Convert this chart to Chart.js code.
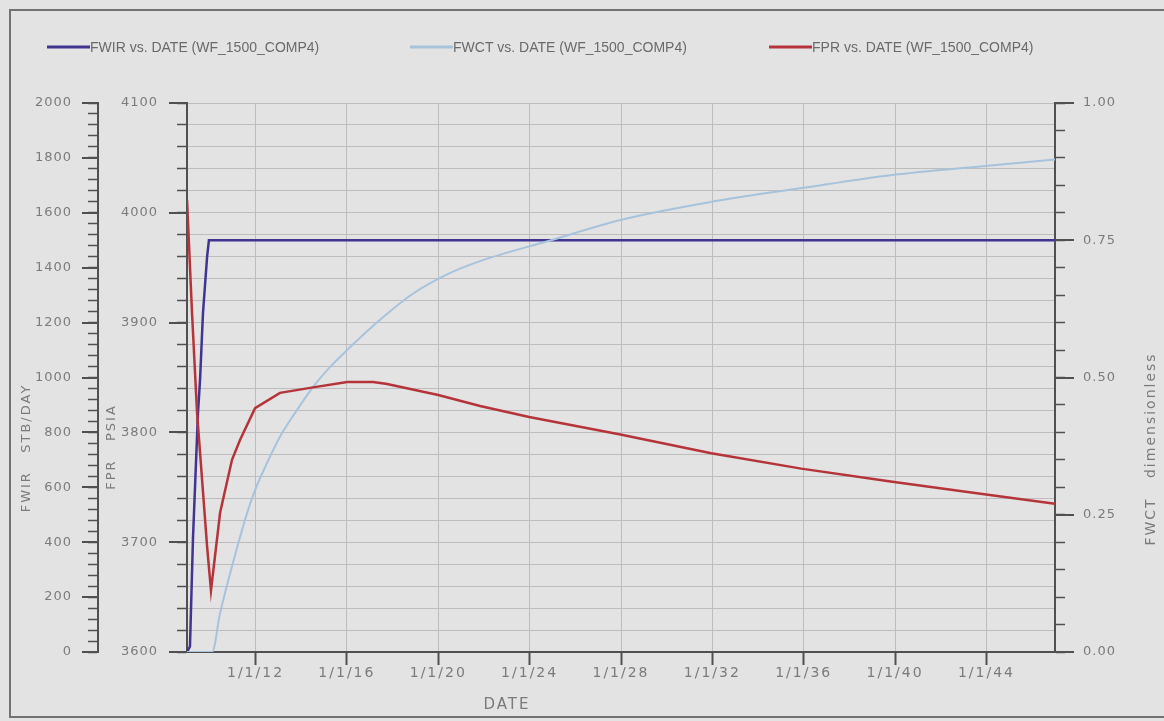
<!DOCTYPE html>
<html>
<head>
<meta charset="utf-8">
<title>FWIR / FWCT / FPR vs. DATE (WF_1500_COMP4)</title>
<script src="https://cdn.jsdelivr.net/npm/chart.js@4.4.1/dist/chart.umd.min.js"></script>
<style>
  html, body { margin: 0; padding: 0; background: #e3e3e3; }
  #wrap { position: relative; width: 1164px; height: 721px; overflow: hidden; }
  #wrap canvas { position: absolute; left: 0; top: 0; }
  #frame {
    position: absolute; left: 9px; top: 9px; width: 1180px; height: 709px;
    border: 2px solid #727272; box-sizing: border-box; pointer-events: none;
  }
</style>
</head>
<body>
<div id="wrap">
  <canvas id="wellChart" width="1164" height="721"></canvas>
  <div id="frame"></div>
</div>
<script>
// Well WF_1500_COMP4 - rate, water cut and pressure against date

// X axis (dates as decimal years)
const dateMin = 2009.0;
const dateMax = 2047.0;
const dateTicks = [2012, 2016, 2020, 2024, 2028, 2032, 2036, 2040, 2044];

// FWIR - water injection rate, STB/DAY
const fwirYears = [2009.00, 2009.13, 2009.26, 2009.48, 2009.57, 2009.70, 2009.88, 2009.96, 2047.00];
const fwirValues = [0, 20, 410, 870, 990, 1235, 1440, 1500, 1500];

// FWCT - water cut, dimensionless
const fwctYears = [2009.00, 2010.10, 2010.45, 2011.01, 2011.63, 2011.98, 2012.50, 2013.07, 2013.82,
  2014.52, 2015.26, 2016.01, 2017.45, 2018.90, 2020.39, 2021.83, 2024.94, 2027.97, 2031.95,
  2035.89, 2039.88, 2043.82, 2047.00];
const fwctValues = [0, 0, 0.071, 0.162, 0.253, 0.295, 0.344, 0.392, 0.441,
  0.483, 0.519, 0.550, 0.605, 0.653, 0.688, 0.712, 0.750, 0.787, 0.820,
  0.845, 0.869, 0.885, 0.897];

// FPR - pressure, PSIA
const fprYears = [2009.00, 2009.22, 2009.44, 2009.66, 2009.88, 2010.05, 2010.45, 2010.97, 2011.32,
  2011.98, 2013.07, 2014.52, 2016.01, 2017.15, 2017.76, 2020.00, 2021.83, 2023.98, 2027.97,
  2031.95, 2035.89, 2039.88, 2043.82, 2047.00];
const fprValues = [4012, 3909, 3818, 3757, 3696, 3656, 3727, 3775, 3793,
  3822, 3836, 3841, 3846, 3846, 3844, 3834, 3824, 3814, 3798,
  3781, 3767, 3755, 3744, 3735];

// Look
const TICK_FONT = "'DejaVu Sans', sans-serif";
const TICK_COLOR = '#7b7b7b';
const AXIS_COLOR = '#505050';
const GRID_COLOR = '#bdbdbd';

// legend layout
const legendY = 47;
const legendStartX = [47, 410, 769];
const legendSampleWidth = 43;

// axis titles (drawn by plugin, positioned like the reference)
const axisTitles = [
  { text: 'FWIR   STB/DAY', x: 27, y: 448, rotate: true, size: 13 },
  { text: 'FPR   PSIA', x: 112, y: 447, rotate: true, size: 13 },
  { text: 'FWCT   dimensionless', x: 1151, y: 449, rotate: true, size: 14 },
  { text: 'DATE', x: 507, y: 705, rotate: false, size: 15 },
];

// longer marks on labelled ticks
const majorTickLength = { fwir: 16, fpr: 18, fwct: 19 };

const charts = {};

window.addEventListener('DOMContentLoaded', function () {
  plotarGrafico();
});

function toPoints(xs, ys) {
  return xs.map((x, i) => ({ x: x, y: ys[i] }));
}

// draws the tick labels of one scale with extra letter spacing
function spaceLabels(scale, spacing) {
  if (scale.$spaced) return;
  scale.$spaced = true;
  const drawLabels = scale.drawLabels.bind(scale);
  scale.drawLabels = function (area) {
    const ctx = scale.ctx;
    ctx.save();
    ctx.letterSpacing = spacing;
    drawLabels(area);
    ctx.restore();
  };
}

const majorTicksPlugin = {
  id: 'majorTicks',
  afterDraw(chart) {
    const ctx = chart.ctx;
    ctx.save();
    ctx.strokeStyle = AXIS_COLOR;
    ctx.lineWidth = 2;
    Object.keys(majorTickLength).forEach((id) => {
      const scale = chart.scales[id];
      const len = majorTickLength[id];
      const edge = scale.position === 'left' ? scale.right : scale.left;
      const dir = scale.position === 'left' ? -1 : 1;
      scale.ticks.forEach((t) => {
        if (t.label === '' || t.label == null) return;
        const y = Math.round(scale.getPixelForValue(t.value));
        ctx.beginPath();
        ctx.moveTo(edge, y);
        ctx.lineTo(edge + dir * len, y);
        ctx.stroke();
      });
    });
    ctx.restore();
  },
};

const titlesPlugin = {
  id: 'axisTitles',
  afterDraw(chart) {
    const ctx = chart.ctx;
    ctx.save();
    ctx.fillStyle = TICK_COLOR;
    ctx.textAlign = 'center';
    ctx.textBaseline = 'middle';
    ctx.letterSpacing = '2px';
    axisTitles.forEach((t) => {
      ctx.font = t.size + 'px ' + TICK_FONT;
      ctx.save();
      ctx.translate(t.x, t.y);
      if (t.rotate) ctx.rotate(-Math.PI / 2);
      ctx.fillText(t.text, 0, 0);
      ctx.restore();
    });
    ctx.restore();
  },
};

const legendPlugin = {
  id: 'lineLegend',
  afterDraw(chart) {
    const ctx = chart.ctx;
    ctx.save();
    ctx.font = "14px 'Liberation Sans', Arial, sans-serif";
    ctx.textBaseline = 'middle';
    ctx.textAlign = 'left';
    chart.data.datasets.forEach((ds, i) => {
      const x = legendStartX[i];
      ctx.strokeStyle = ds.borderColor;
      ctx.lineWidth = 3;
      ctx.beginPath();
      ctx.moveTo(x, legendY);
      ctx.lineTo(x + legendSampleWidth, legendY);
      ctx.stroke();
      ctx.fillStyle = '#6a6a6a';
      ctx.fillText(ds.label, x + legendSampleWidth, legendY + 1);
    });
    ctx.restore();
  },
};

function yTicks(padding, cb) {
  return {
    autoSkip: false,
    padding: padding,
    color: TICK_COLOR,
    font: { family: TICK_FONT, size: 13 },
    callback: cb,
  };
}

function plotarGrafico() {
  const ctx = document.getElementById('wellChart');
  if (!ctx) return;

  const config = {
    type: 'line',
    data: {
      datasets: [
        {
          label: 'FWIR vs. DATE (WF_1500_COMP4)',
          data: toPoints(fwirYears, fwirValues),
          yAxisID: 'fwir',
          borderColor: '#3f3591',
          borderWidth: 2.5,
          tension: 0,
          order: 2,
        },
        {
          label: 'FWCT vs. DATE (WF_1500_COMP4)',
          data: toPoints(fwctYears, fwctValues),
          yAxisID: 'fwct',
          borderColor: '#a7c3dc',
          borderWidth: 2,
          cubicInterpolationMode: 'monotone',
          order: 1,
        },
        {
          label: 'FPR vs. DATE (WF_1500_COMP4)',
          data: toPoints(fprYears, fprValues),
          yAxisID: 'fpr',
          borderColor: '#b5343a',
          borderWidth: 2.5,
          tension: 0,
          order: 0,
        },
      ],
    },
    options: {
      responsive: false,
      animation: false,
      devicePixelRatio: 1,
      elements: { point: { radius: 0 } },
      layout: { padding: { top: 103, left: 10, right: 9, bottom: 9 } },
      plugins: {
        legend: { display: false },
        tooltip: { enabled: false },
      },
      scales: {
        x: {
          type: 'linear',
          min: dateMin,
          max: dateMax,
          afterBuildTicks: (scale) => {
            scale.ticks = dateTicks.map((v) => ({ value: v }));
          },
          afterFit: (scale) => {
            scale.height = 60;
            spaceLabels(scale, '2px');
          },
          ticks: {
            autoSkip: false,
            maxRotation: 0,
            padding: 0,
            color: TICK_COLOR,
            font: { family: TICK_FONT, size: 14 },
            callback: (v) => '1/1/' + String(v).slice(2),
          },
          grid: {
            color: GRID_COLOR,
            lineWidth: 1,
            tickLength: 13,
            tickColor: AXIS_COLOR,
            tickWidth: 2,
          },
          border: { color: AXIS_COLOR, width: 2 },
        },
        fwir: {
          type: 'linear',
          position: 'left',
          weight: 1,
          min: 0,
          max: 2000,
          afterFit: (scale) => {
            scale.width = 88;
            spaceLabels(scale, '1px');
          },
          ticks: Object.assign(yTicks(16, (v) => (v % 200 === 0 ? v : '')), { stepSize: 40 }),
          grid: {
            drawOnChartArea: false,
            tickLength: 10,
            tickColor: AXIS_COLOR,
            tickWidth: 1.5,
          },
          border: { color: AXIS_COLOR, width: 2 },
        },
        fpr: {
          type: 'linear',
          position: 'left',
          weight: 0,
          min: 3600,
          max: 4100,
          afterFit: (scale) => {
            scale.width = 89;
            spaceLabels(scale, '1px');
          },
          ticks: Object.assign(yTicks(19, (v) => (v % 100 === 0 ? v : '')), { stepSize: 20 }),
          grid: {
            color: GRID_COLOR,
            lineWidth: 1,
            tickLength: 10,
            tickColor: AXIS_COLOR,
            tickWidth: 1.5,
          },
          border: { color: AXIS_COLOR, width: 2 },
        },
        fwct: {
          type: 'linear',
          position: 'right',
          min: 0,
          max: 1,
          afterFit: (scale) => {
            scale.width = 100;
            spaceLabels(scale, '1px');
          },
          ticks: Object.assign(
            yTicks(18, (v) => (Math.round(v * 100) % 25 === 0 ? v.toFixed(2) : '')),
            { stepSize: 0.05 }
          ),
          grid: {
            drawOnChartArea: false,
            tickLength: 10,
            tickColor: AXIS_COLOR,
            tickWidth: 1.5,
          },
          border: { color: AXIS_COLOR, width: 2 },
        },
      },
    },
    plugins: [majorTicksPlugin, titlesPlugin, legendPlugin],
  };

  charts.well = new Chart(ctx, config);
}
</script>
</body>
</html>
